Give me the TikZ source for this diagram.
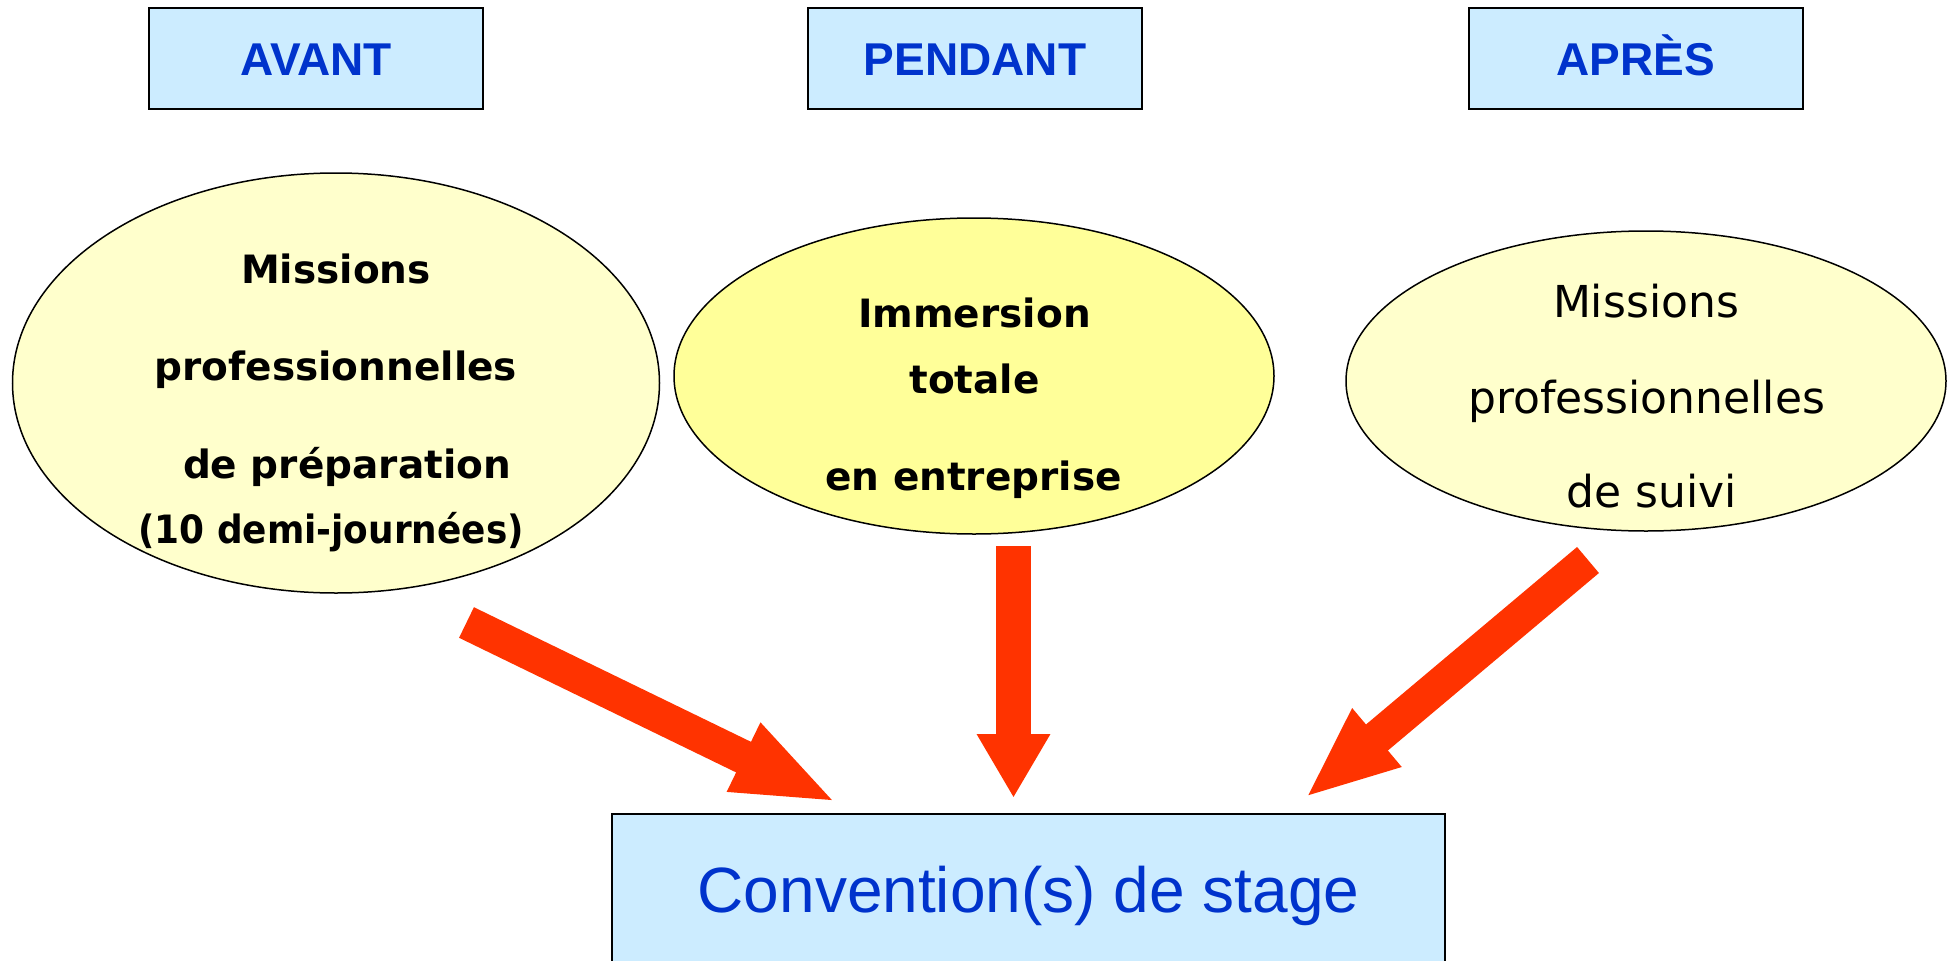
\documentclass[tikz,border=0pt]{standalone}
\usepackage{fontspec}
\setmainfont{Liberation Sans}
\newfontfamily\comic{DejaVu Sans}
\usetikzlibrary{arrows.meta,shapes.geometric}
\definecolor{boxblue}{HTML}{CCECFF}
\definecolor{txtblue}{HTML}{0033CC}
\definecolor{paleyel}{HTML}{FFFFCC}
\definecolor{yel}{HTML}{FFFF99}
\definecolor{arrred}{HTML}{FF3300}
\begin{document}
\begin{tikzpicture}[x=1pt,y=-1pt,
  phase/.style={draw=black, line width=2pt, fill=boxblue, minimum width=334pt, minimum height=101pt,
    inner sep=0pt, text=txtblue, font=\fontsize{46}{50}\selectfont\bfseries, text height=33pt, text depth=0pt},
  convbox/.style={draw=black, line width=2pt, fill=boxblue, minimum width=833pt, minimum height=200pt,
    inner sep=0pt, text=txtblue, font=\fontsize{64}{70}\selectfont, text height=48pt, text depth=52pt, anchor=north},
  bubble/.style={ellipse, draw=black, line width=1.5pt, inner sep=0pt},
  boldline/.style={anchor=base, inner sep=0pt, font=\comic\fontsize{39}{45}\selectfont\bfseries},
  regline/.style={anchor=base, inner sep=0pt, font=\comic\fontsize{44}{50}\selectfont},
  bigarrow/.style={draw=arrred, fill=arrred}
]
\useasboundingbox (0,0) rectangle (1955,961);

% phase boxes
\node[phase] (avant) at (316,58.5) {AVANT};
\node[phase] (pendant) at (975,58.5) {PENDANT};
\node[phase] (apres) at (1635.5,58.5) {APRÈS};

% ellipses
\node[bubble, fill=paleyel, minimum width=647pt, minimum height=420pt] (prep) at (336,383) {};
\node[bubble, fill=yel, minimum width=600pt, minimum height=316pt] (immer) at (974,376) {};
\node[bubble, fill=paleyel, minimum width=600pt, minimum height=300pt] (suivi) at (1646,381) {};

% texts in ellipses
\node[boldline] (p1) at (336,283) {Missions};
\node[boldline] (p2) at (336,380) {professionnelles};
\node[boldline] (p3) at (347,478) {de préparation};
\node[boldline] (p4) at (331,543) {\scalebox{0.92}[1]{(10 demi-journées)}};

\node[boldline] (i1) at (974.5,327) {Immersion};
\node[boldline] (i2) at (974.5,393) {totale};
\node[boldline] (i3) at (973.5,490) {en entreprise};

\node[regline] (s1) at (1646,317) {Missions};
\node[regline] (s2) at (1646.5,413) {professionnelles};
\node[regline] (s3) at (1652,507) {de suivi};

% bottom box
\node[convbox] (conv) at (1028.5,813) {Convention(s) de stage};

% arrows
\coordinate (a1s) at (466.5,622.5);
\coordinate (a1e) at (838,803);
\coordinate (a2s) at (1013.5,546);
\coordinate (a2e) at (1013.5,798);
\coordinate (a3s) at (1588,560);
\coordinate (a3e) at (1305,798);
\draw[bigarrow, line width=34pt, -{Triangle[length=105pt,width=68pt]}] (a1s) -- (a1e);
\draw[bigarrow, line width=35pt, -{Triangle[length=64pt,width=69pt]}] (a2s) -- (a2e);
\draw[bigarrow, line width=34pt, -{Triangle[length=94pt,width=69pt]}] (a3s) -- (a3e);
\end{tikzpicture}
\end{document}
